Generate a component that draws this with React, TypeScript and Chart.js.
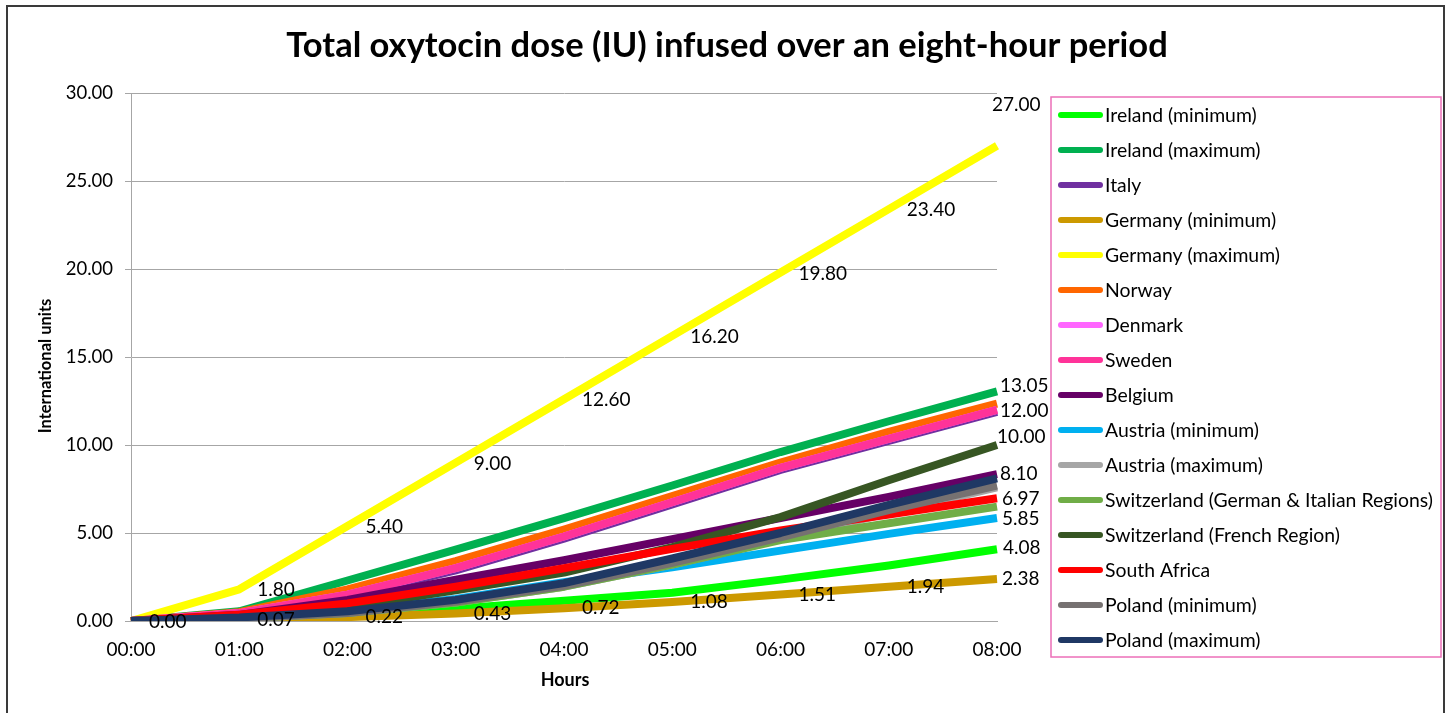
import { useEffect, useRef } from 'react';
import { Chart, registerables } from 'chart.js';

Chart.register(...registerables);

const hours = ['00:00', '01:00', '02:00', '03:00', '04:00', '05:00', '06:00', '07:00', '08:00'];

const irelandMin = [0, 0.1, 0.35, 0.7, 1.15, 1.6, 2.35, 3.15, 4.08];
const irelandMax = [0, 0.55, 2.3, 4.05, 5.85, 7.7, 9.6, 11.35, 13.05];
const italy = [0, 0.4, 1.38, 2.88, 4.68, 6.62, 8.58, 10.23, 11.88];
const germanyMin = [0, 0.07, 0.22, 0.43, 0.72, 1.08, 1.51, 1.94, 2.38];
const germanyMax = [0, 1.8, 5.4, 9.0, 12.6, 16.2, 19.8, 23.4, 27.0];
const norway = [0, 0.5, 1.8, 3.4, 5.2, 7.1, 9.0, 10.75, 12.35];
const denmark = [0, 0.45, 1.5, 3.0, 4.8, 6.75, 8.7, 10.35, 12.0];
const sweden = [0, 0.45, 1.5, 3.0, 4.8, 6.75, 8.7, 10.35, 12.0];
const belgium = [0, 0.35, 1.2, 2.35, 3.45, 4.65, 5.85, 7.05, 8.35];
const austriaMin = [0, 0.2, 0.55, 1.25, 2.2, 3.05, 4.0, 4.95, 5.85];
const austriaMax = [0, 0.15, 0.45, 1.05, 1.95, 3.2, 4.65, 6.15, 7.6];
const switzerlandGI = [0, 0.15, 0.45, 1.05, 1.95, 3.2, 4.6, 5.55, 6.5];
const switzerlandFr = [0, 0.3, 0.8, 1.75, 2.75, 4.2, 5.9, 8.0, 10.0];
const southAfrica = [0, 0.35, 1.0, 1.95, 3.0, 4.1, 5.15, 6.05, 6.97];
const polandMin = [0, 0.15, 0.45, 1.1, 2.0, 3.3, 4.75, 6.3, 7.7];
const polandMax = [0, 0.2, 0.55, 1.2, 2.15, 3.55, 5.0, 6.6, 8.1];

const seriesNames = [
  'Ireland (minimum)',
  'Ireland (maximum)',
  'Italy',
  'Germany (minimum)',
  'Germany (maximum)',
  'Norway',
  'Denmark',
  'Sweden',
  'Belgium',
  'Austria (minimum)',
  'Austria (maximum)',
  'Switzerland (German & Italian Regions)',
  'Switzerland (French Region)',
  'South Africa',
  'Poland (minimum)',
  'Poland (maximum)',
];

const seriesValues = [
  irelandMin, irelandMax, italy, germanyMin, germanyMax, norway, denmark, sweden,
  belgium, austriaMin, austriaMax, switzerlandGI, switzerlandFr, southAfrica, polandMin, polandMax,
];

const seriesColors = [
  '#00FF00', '#00B050', '#7030A0', '#CC9900', '#FFFF00', '#FF6600', '#FF66FF', '#FF3399',
  '#660066', '#00B0F0', '#A6A6A6', '#70AD47', '#375623', '#FF0000', '#767171', '#1F3864',
];

const yTicks = [0, 5, 10, 15, 20, 25, 30];

const titleText = 'Total oxytocin dose (IU) infused over an eight-hour period';
const xTitle = 'Hours';
const yTitle = 'International units';

const FONT = 'Lato, "Open Sans", sans-serif';

// label placement rules: [datasetIndex, pointIndices, dx, dy]
const labelRules: [number, number[], number, number][] = [
  [4, [0, 1, 2, 3, 4, 5, 6, 7], 18, 1],
  [4, [8], -5, -41],
  [3, [1, 2, 3, 4, 5, 6, 7], 18, 0],
  [3, [8], 5, 0],
  [1, [8], 3, -5],
  [7, [8], 3, 1],
  [12, [8], 0, -8],
  [15, [8], 3, -5],
  [13, [8], 5, 1],
  [9, [8], 5, 1],
  [0, [8], 6, -1],
];

export default function App() {
  const ref = useRef<HTMLCanvasElement | null>(null);

  useEffect(() => {
    if (!ref.current) return;

    const chromePlugin = {
      id: 'chrome',
      beforeDraw(chart: any) {
        const ctx = chart.ctx;
        ctx.save();
        ctx.fillStyle = '#ffffff';
        ctx.fillRect(0, 0, chart.width, chart.height);
        ctx.strokeStyle = '#3a3a3a';
        ctx.lineWidth = 2;
        ctx.strokeRect(7, 6, 1437, 740);
        ctx.fillStyle = '#000';
        ctx.textAlign = 'center';
        ctx.textBaseline = 'middle';
        ctx.font = `bold 34.5px ${FONT}`;
        ctx.fillText(titleText, 727, 46);
        ctx.font = `bold 18px ${FONT}`;
        ctx.fillText(xTitle, 565, 680);
        ctx.font = `bold 16.5px ${FONT}`;
        ctx.translate(46, 366);
        ctx.rotate(-Math.PI / 2);
        ctx.fillText(yTitle, 0, 0);
        ctx.restore();
      },
      afterDatasetsDraw(chart: any) {
        const ctx = chart.ctx;
        ctx.save();
        ctx.fillStyle = '#000';
        ctx.font = `19px ${FONT}`;
        ctx.textAlign = 'left';
        ctx.textBaseline = 'middle';
        for (const [di, idxs, dx, dy] of labelRules) {
          const meta = chart.getDatasetMeta(di);
          for (const i of idxs) {
            const pt = meta.data[i];
            const v = chart.data.datasets[di].data[i] as number;
            ctx.fillText(v.toFixed(2), pt.x + dx, pt.y + dy);
          }
        }
        ctx.restore();
      },
      afterDraw(chart: any) {
        const ctx = chart.ctx;
        ctx.save();
        ctx.strokeStyle = '#EC6FB8';
        ctx.lineWidth = 1.5;
        ctx.strokeRect(1051, 97, 390, 560);
        ctx.font = `19.4px ${FONT}`;
        ctx.textAlign = 'left';
        ctx.textBaseline = 'middle';
        chart.data.datasets.forEach((ds: any, i: number) => {
          const y = 115 + i * 35;
          ctx.strokeStyle = ds.borderColor;
          ctx.lineWidth = 6;
          ctx.lineCap = 'round';
          ctx.beginPath();
          ctx.moveTo(1061, y);
          ctx.lineTo(1100, y);
          ctx.stroke();
          ctx.fillStyle = '#000';
          ctx.fillText(ds.label, 1105, y + 1);
        });
        ctx.restore();
      },
    };

    const n = seriesValues.length;
    const chart = new Chart(ref.current, {
      type: 'line',
      data: {
        labels: hours,
        datasets: seriesValues.map((vals, i) => ({
          label: seriesNames[i],
          data: vals,
          borderColor: seriesColors[i],
          backgroundColor: seriesColors[i],
          borderWidth: 8,
          borderJoinStyle: 'round' as const,
          pointRadius: 0,
          fill: false,
          tension: 0,
          order: n - 1 - i,
        })),
      },
      options: {
        responsive: false,
        animation: false,
        devicePixelRatio: 1,
        layout: { padding: { left: 8, top: 93, right: 451, bottom: 32 } },
        plugins: {
          legend: { display: false },
          title: { display: false },
          tooltip: { enabled: false },
        },
        scales: {
          x: {
            type: 'category',
            offset: false,
            grid: { display: false },
            border: { display: true, color: '#A6A6A6' },
            ticks: {
              color: '#000',
              font: { family: FONT, size: 19 },
              padding: 9,
              maxRotation: 0,
              autoSkip: false,
            },
            afterFit: (s: any) => {
              s.height = 60;
            },
          },
          y: {
            min: 0,
            max: 30,
            afterBuildTicks: (s: any) => {
              s.ticks = yTicks.map((v) => ({ value: v }));
            },
            grid: { color: '#A6A6A6', lineWidth: 1, tickLength: 6 },
            border: { display: true, color: '#A6A6A6' },
            ticks: {
              color: '#000',
              font: { family: FONT, size: 18.5 },
              padding: 12,
              callback: (v: any) => Number(v).toFixed(2),
            },
            afterFit: (s: any) => {
              s.width = 123;
            },
          },
        },
      },
      plugins: [chromePlugin],
    });

    return () => chart.destroy();
  }, []);

  return (
    <div style={{ position: 'fixed', left: 0, top: 0, width: 1448, height: 713, background: '#fff' }}>
      <canvas ref={ref} width={1448} height={713} />
    </div>
  );
}
